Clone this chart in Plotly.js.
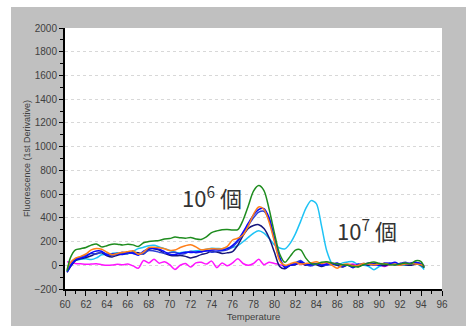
<!DOCTYPE html>
<html>
<head>
<meta charset="utf-8">
<script src="https://cdn.plot.ly/plotly-3.0.1.min.js"></script>
<style>
  html, body { margin: 0; padding: 0; background: #ffffff; }
  #frame { position: absolute; left: 11px; top: 7px; width: 455px; height: 319px; background: #c0c0c0; }
  #chart { position: absolute; left: 0; top: 0; width: 466px; height: 326px; }
</style>
</head>
<body>
<div id="frame"></div>
<div id="chart"></div>
<script>
// Melt-curve temperatures (°C)
const temps = [60.2, 60.5, 61.0, 61.5, 62.0, 62.5, 63.0, 63.5, 64.0, 64.5,
  65.0, 65.5, 66.0, 66.5, 67.0, 67.5, 68.0, 68.5, 69.0, 69.5,
  70.0, 70.5, 71.0, 71.5, 72.0, 72.5, 73.0, 73.5, 74.0, 74.5,
  75.0, 75.5, 76.0, 76.5, 77.0, 77.5, 78.0, 78.5, 79.0, 79.5,
  80.0, 80.5, 81.0, 81.5, 82.0, 82.5, 83.0, 83.5, 84.0, 84.5,
  85.0, 85.5, 86.0, 86.5, 87.0, 87.5, 88.0, 88.5, 89.0, 89.5,
  90.0, 90.5, 91.0, 91.5, 92.0, 92.5, 93.0, 93.5, 94.0, 94.3];

// First-derivative fluorescence for each well
const greenWell = [-50, 60, 130, 140, 150, 170, 180, 155, 165, 178,
  178, 170, 178, 172, 158, 190, 200, 205, 208, 222,
  225, 238, 232, 228, 234, 222, 218, 240, 275, 290,
  300, 302, 298, 300, 380, 500, 625, 672, 630, 470,
  270, 95, 25, 75, 128, 130, 60, 15, 10, 25,
  30, 20, 12, 5, 0, -10, -15, 5, 20, 28,
  15, 10, 5, 2, 10, 20, 12, 38, 30, -20];

const orangeWell = [-30, 20, 60, 75, 95, 130, 142, 135, 110, 88,
  100, 108, 115, 122, 92, 110, 150, 152, 148, 140,
  125, 128, 150, 165, 172, 155, 130, 135, 140, 138,
  140, 160, 213, 228, 255, 330, 430, 492, 470, 360,
  200, 40, 0, 12, 25, 10, 15, 20, 30, 15,
  25, 0, -25, 5, 10, -5, 0, 15, 10, 5,
  10, 15, 5, 10, 0, 10, 15, 10, 5, -10];

const blueWell = [-55, -10, 45, 60, 75, 105, 120, 118, 85, 95,
  100, 90, 108, 100, 85, 120, 140, 142, 135, 115,
  92, 90, 100, 110, 108, 112, 115, 120, 128, 130,
  128, 140, 168, 212, 280, 355, 425, 470, 478, 400,
  230, 70, -20, 0, 10, 30, 10, 5, 15, 0,
  10, 5, 20, -5, 0, -20, 10, 5, 20, 10,
  0, 20, 15, 25, 5, 10, 20, 25, 10, -15];

const royalWell = [-45, 0, 55, 70, 85, 100, 95, 110, 95, 80,
  95, 110, 100, 105, 90, 100, 125, 120, 110, 100,
  105, 110, 95, 100, 118, 105, 112, 125, 110, 118,
  122, 130, 155, 200, 265, 335, 400, 448, 455, 380,
  210, 50, -10, 5, 20, 40, 5, -5, 10, 5,
  0, 10, 15, -10, 5, -15, 0, 15, 10, 0,
  15, 10, 20, 5, 15, 25, 10, 20, 15, -5];

const navyWell = [-60, -15, 40, 55, 65, 80, 100, 105, 80, 70,
  85, 95, 100, 110, 105, 95, 135, 140, 128, 100,
  85, 80, 82, 75, 62, 72, 90, 100, 120, 112,
  100, 105, 115, 170, 250, 310, 335, 342, 310, 230,
  110, -10, -30, 0, 5, 25, 0, 10, 5, -10,
  5, 10, 0, -15, 5, 0, -10, 10, 0, 15,
  5, -5, 10, 5, 15, 5, 0, 10, 0, -20];

const cyanWell = [-40, 0, 40, 50, 55, 48, 62, 88, 92, 100,
  105, 100, 98, 118, 140, 152, 165, 168, 155, 140,
  125, 110, 105, 112, 115, 122, 128, 135, 143, 142,
  140, 145, 150, 165, 198, 235, 270, 290, 270, 225,
  172, 145, 138, 185, 265, 370, 480, 545, 520, 330,
  120, 15, 0, 20, 28, 30, 5, 0, -10, -38,
  -10, 5, 15, 10, 5, 0, 10, 20, -10, -35];

const magentaWell = [30, 25, 15, 12, 8, 10, 12, 5, 0, 2,
  8, 5, 10, -5, -25, 40, 20, 50, 18, 30,
  5, -35, 0, 15, -15, 20, 25, 10, 35, -20,
  20, -5, 20, 55, 15, 0, 15, 50, 5, 25,
  15, 5, -10, 0, 10, 15, 0, 5, 10, 5,
  15, 20, 10, 0, 5, 10, 0, 5, 10, 5,
  0, -10, 5, 10, 0, 5, 10, 15, 5, -5];

const wells = [
  { y: magentaWell, color: '#ff14ff' },
  { y: cyanWell, color: '#1ec3f5' },
  { y: navyWell, color: '#16167c' },
  { y: royalWell, color: '#2d3fd6' },
  { y: blueWell, color: '#0a0aff' },
  { y: orangeWell, color: '#ff7f1a' },
  { y: greenWell, color: '#1e8c1e' }
];

const traces = wells.map(w => ({
  x: temps,
  y: w.y,
  type: 'scatter',
  mode: 'lines',
  line: { color: w.color, width: 1.5, shape: 'spline', smoothing: 0.8 },
  hoverinfo: 'skip'
}));

const tickFont = { family: 'Liberation Sans, Arial, sans-serif', size: 10, color: '#404040' };
const labelFont = { family: 'Noto Sans CJK JP, Liberation Sans, sans-serif', size: 22, color: '#333333' };

const layout = {
  width: 466,
  height: 326,
  margin: { l: 65, r: 24, t: 28, b: 37 },
  paper_bgcolor: 'rgba(0,0,0,0)',
  plot_bgcolor: '#ffffff',
  showlegend: false,
  xaxis: {
    range: [60, 96],
    dtick: 2,
    tick0: 60,
    showgrid: false,
    zeroline: false,
    showline: true,
    linecolor: '#000000',
    linewidth: 2,
    ticks: 'outside',
    ticklen: 5,
    tickwidth: 1,
    tickcolor: '#000000',
    tickfont: tickFont,
    minor: { dtick: 1, ticks: 'outside', ticklen: 3, tickcolor: '#000000', showgrid: false },
    title: { text: 'Temperature', font: { family: 'Liberation Sans, Arial, sans-serif', size: 9.5, color: '#404040' }, standoff: 4 }
  },
  yaxis: {
    range: [-200, 2000],
    dtick: 200,
    tick0: 0,
    showgrid: true,
    gridcolor: '#d8d8d8',
    griddash: 'dot',
    gridwidth: 1,
    zeroline: false,
    showline: true,
    linecolor: '#000000',
    linewidth: 2,
    ticks: 'outside',
    ticklen: 4,
    tickwidth: 1,
    tickcolor: '#000000',
    tickfont: tickFont,
    minor: { dtick: 100, ticks: 'outside', ticklen: 3, tickcolor: '#000000', showgrid: false },
    title: { text: 'Fluorescence (1st Derivative)', font: { family: 'Liberation Sans, Arial, sans-serif', size: 9, color: '#404040' }, standoff: 2 }
  },
  annotations: [
    { x: 71.0, y: 578, xref: 'x', yref: 'y', xanchor: 'left', yanchor: 'middle',
      text: '10<sup>6</sup> 個', showarrow: false, font: labelFont },
    { x: 85.8, y: 298, xref: 'x', yref: 'y', xanchor: 'left', yanchor: 'middle',
      text: '10<sup>7</sup> 個', showarrow: false, font: labelFont }
  ]
};

Plotly.newPlot('chart', traces, layout, { staticPlot: true, displayModeBar: false });
</script>
</body>
</html>
